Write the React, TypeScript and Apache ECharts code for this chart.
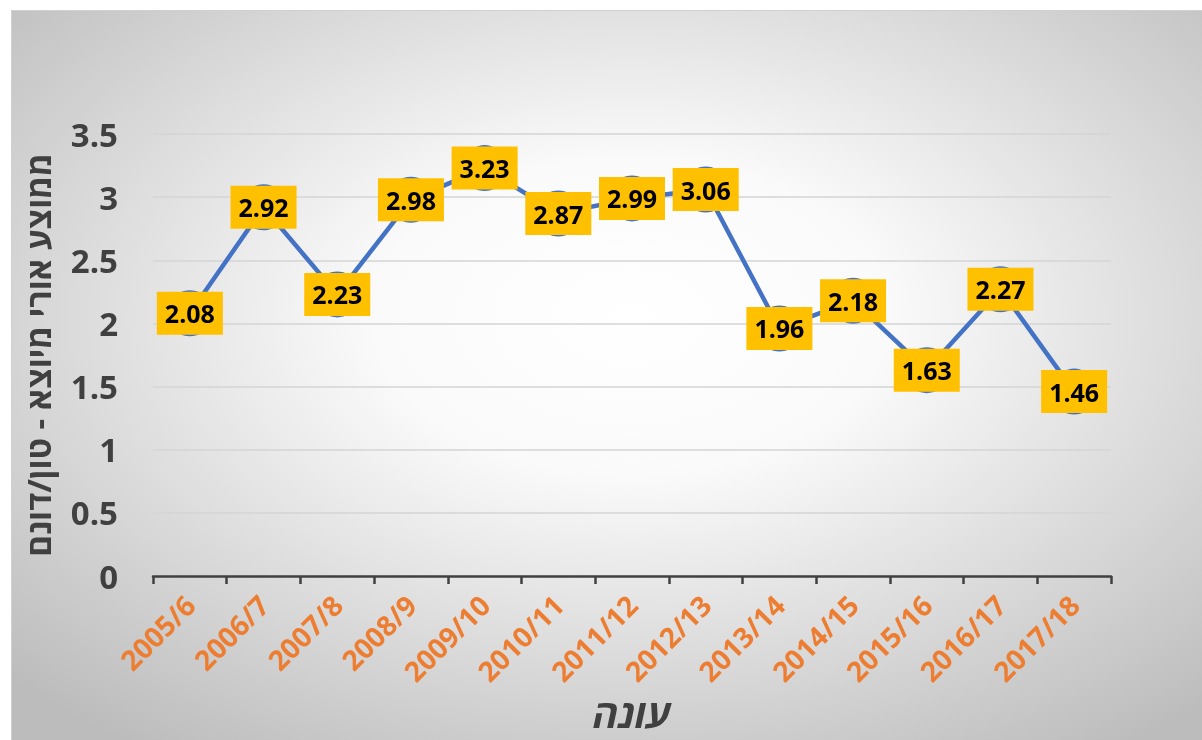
import React, { useEffect, useRef } from "react";
import * as echarts from "echarts";

const categories = [
  "2005/6", "2006/7", "2007/8", "2008/9", "2009/10", "2010/11", "2011/12",
  "2012/13", "2013/14", "2014/15", "2015/16", "2016/17", "2017/18",
];
const values = [2.08, 2.92, 2.23, 2.98, 3.23, 2.87, 2.99, 3.06, 1.96, 2.18, 1.63, 2.27, 1.46];
const yAxisTitle = "ממוצע אורי מיוצא - טון/דונם";
const xAxisTitle = "עונה";

const FONT = "'Open Sans', 'Liberation Sans', 'DejaVu Sans', sans-serif";

export default function App() {
  const ref = useRef<HTMLDivElement>(null);
  useEffect(() => {
    if (!ref.current) return;
    const chart = echarts.init(ref.current, null, { renderer: "svg" });
    chart.setOption({
      animation: false,
      backgroundColor: {
        type: "radial",
        x: 0.52,
        y: 0.42,
        r: 0.72,
        colorStops: [
          { offset: 0, color: "#ffffff" },
          { offset: 0.3, color: "#fafafa" },
          { offset: 1, color: "#bcbcbc" },
        ],
      },
      grid: { left: 141, right: 91, top: 123, bottom: 164 },
      xAxis: {
        type: "category",
        data: categories,
        boundaryGap: true,
        name: xAxisTitle,
        nameLocation: "middle",
        nameGap: 113,
        nameTextStyle: {
          fontFamily: FONT,
          fontSize: 39,
          lineHeight: 34,
          fontWeight: "bold",
          fontStyle: "italic",
          color: "#404040",
        },
        axisLine: { show: true, lineStyle: { color: "#404040", width: 2.5 } },
        axisTick: { show: true, length: 8, lineStyle: { color: "#404040", width: 2.5 } },
        axisLabel: {
          rotate: 45,
          margin: 24,
          interval: 0,
          color: "#ED7D31",
          fontFamily: FONT,
          fontSize: 28,
          fontWeight: "bold",
        },
        splitLine: { show: false },
      },
      yAxis: {
        type: "value",
        min: 0,
        max: 3.5,
        interval: 0.5,
        name: yAxisTitle,
        nameLocation: "middle",
        nameRotate: 90,
        nameGap: 98,
        nameTextStyle: {
          fontFamily: FONT,
          fontSize: 33,
          fontWeight: "bold",
          color: "#404040",
        },
        axisLine: { show: false },
        axisTick: { show: false },
        axisLabel: {
          margin: 35,
          color: "#404040",
          fontFamily: FONT,
          fontSize: 33,
          fontWeight: "bold",
        },
        splitLine: { show: true, lineStyle: { color: "#d5d5d5", width: 1.5 } },
      },
      series: [
        {
          type: "line",
          data: values,
          symbol: "circle",
          symbolSize: 46,
          itemStyle: { color: "#4472C4" },
          lineStyle: { color: "#4472C4", width: 4.5 },
          label: {
            show: true,
            position: "inside",
            backgroundColor: "#FFC000",
            padding: [8, 8, 7, 8],
            lineHeight: 28,
            color: "#000000",
            fontFamily: FONT,
            fontSize: 25,
            fontWeight: "bold",
            formatter: (p: any) => p.value.toFixed(2),
          },
        },
      ],
    });
    return () => chart.dispose();
  }, []);
  return (
    <div
      ref={ref}
      style={{
        position: "fixed",
        left: 11,
        top: 10,
        width: 1191,
        height: 730,
        borderTop: "1px solid #d0d0d0",
        borderLeft: "1px solid #d0d0d0",
        boxSizing: "border-box",
      }}
    />
  );
}
